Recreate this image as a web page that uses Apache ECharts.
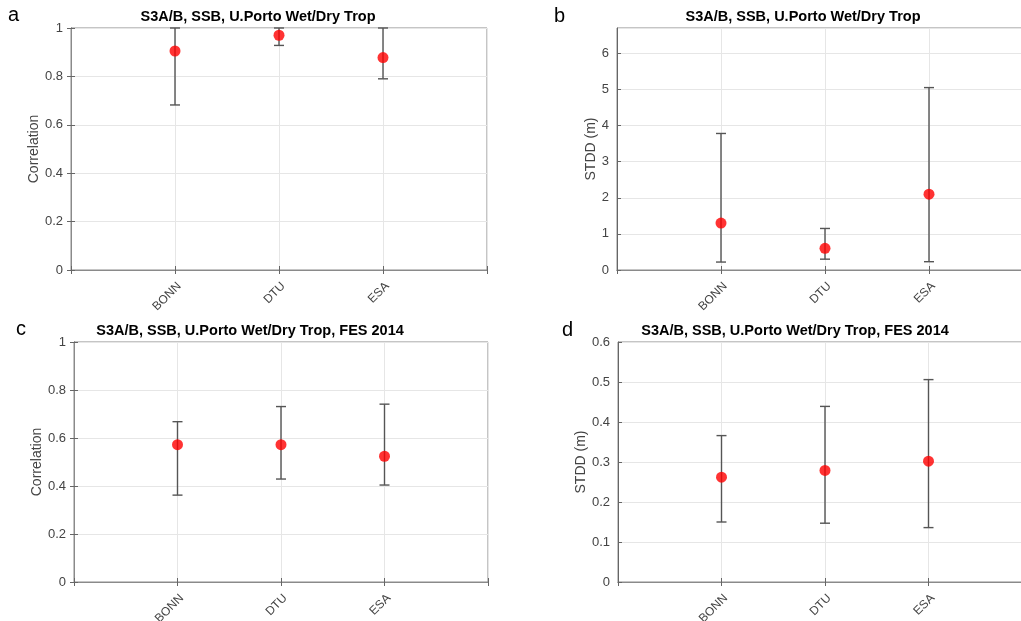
<!DOCTYPE html>
<html><head><meta charset="utf-8">
<script src="https://cdn.jsdelivr.net/npm/echarts@6/dist/echarts.min.js"></script>
<style>html,body{margin:0;padding:0;background:#fff}#c{width:1021px;height:621px}</style>
</head><body><div id="c"></div>
<script>
const categories = ['BONN', 'DTU', 'ESA'];
// panel a: correlation
const corrA = [0.905, 0.970, 0.878];
const corrALow = [0.682, 0.928, 0.790];
const corrAHigh = [1.0, 1.0, 1.0];
// panel b: STDD (m)
const stddB = [1.30, 0.60, 2.10];
const stddBLow = [0.22, 0.30, 0.23];
const stddBHigh = [3.78, 1.15, 5.05];
// panel c: correlation, FES 2014
const corrC = [0.572, 0.572, 0.524];
const corrCLow = [0.362, 0.429, 0.404];
const corrCHigh = [0.668, 0.731, 0.741];
// panel d: STDD (m), FES 2014
const stddD = [0.262, 0.279, 0.302];
const stddDLow = [0.150, 0.147, 0.136];
const stddDHigh = [0.366, 0.439, 0.506];

const panelLetters = ['a', 'b', 'c', 'd'];
const titles = ['S3A/B, SSB, U.Porto Wet/Dry Trop', 'S3A/B, SSB, U.Porto Wet/Dry Trop',
  'S3A/B, SSB, U.Porto Wet/Dry Trop, FES 2014', 'S3A/B, SSB, U.Porto Wet/Dry Trop, FES 2014'];
const yNames = ['Correlation', 'STDD (m)', 'Correlation', 'STDD (m)'];
const yMax = [1, 6.7, 1, 0.6];
const yStep = [0.2, 1, 0.2, 0.1];

const panels = [
  {v: corrA, lo: corrALow, hi: corrAHigh},
  {v: stddB, lo: stddBLow, hi: stddBHigh},
  {v: corrC, lo: corrCLow, hi: corrCHigh},
  {v: stddD, lo: stddDLow, hi: stddDHigh}
];

const FONT = "'Liberation Sans', Arial, Helvetica, sans-serif";
// layout (right panels run past the canvas edge, as in the reference)
const grids = [
  {left: 71, top: 28, width: 416, height: 242},
  {left: 617, top: 28, width: 416, height: 242},
  {left: 74, top: 342, width: 414, height: 240},
  {left: 618, top: 342, width: 414, height: 240}
];
const showRight = [true, false, true, false];
const titlePos = [[258, 17], [803, 17], [250, 331], [795, 331]];
const letterPos = [[8, 15], [554, 16], [16, 329], [562, 330]];
const yNameGap = [28, 18, 27, 28];

function renderErr(params, api) {
  const x = api.value(0), lo = api.value(1), hi = api.value(2);
  const p1 = api.coord([x, lo]), p2 = api.coord([x, hi]);
  const w = 5;
  const st = {stroke: '#555', lineWidth: 1.4};
  return {type: 'group', children: [
    {type: 'line', shape: {x1: p1[0], y1: p1[1], x2: p2[0], y2: p2[1]}, style: st},
    {type: 'line', shape: {x1: p1[0] - w, y1: p1[1], x2: p1[0] + w, y2: p1[1]}, style: st},
    {type: 'line', shape: {x1: p2[0] - w, y1: p2[1], x2: p2[0] + w, y2: p2[1]}, style: st}
  ]};
}

const option = {
  animation: false,
  backgroundColor: '#fff',
  grid: [], xAxis: [], yAxis: [], series: [], graphic: []
};

const axisCol = '#666';
const boxCol = '#8a8a8a';
const gridCol = '#e6e6e6';
const labelCol = '#444';

grids.forEach((g, i) => {
  option.grid.push(Object.assign({show: true, borderColor: boxCol, borderWidth: 1, backgroundColor: '#fff',
    containLabel: false, outerBoundsMode: 'none'}, g));
  option.xAxis.push({
    type: 'value', gridIndex: i, min: 0, max: 4, interval: 1,
    axisLine: {show: true, lineStyle: {color: axisCol}},
    axisTick: {show: true, inside: true, length: 4, lineStyle: {color: axisCol}},
    splitLine: {show: true, lineStyle: {color: gridCol, width: 1}},
    axisLabel: {
      rotate: 45, margin: 10, verticalAlign: 'top', color: labelCol, fontFamily: FONT, fontSize: 12,
      formatter: v => (v >= 1 && v <= categories.length) ? categories[v - 1] : ''
    }
  });
  option.xAxis.push({
    type: 'value', gridIndex: i, min: 0, max: 4, interval: 1, position: 'top',
    axisLine: {show: true, lineStyle: {color: boxCol}},
    axisTick: {show: true, inside: true, length: 4, lineStyle: {color: axisCol}},
    splitLine: {show: false}, axisLabel: {show: false}
  });
  const exact = Math.abs(yMax[i] / yStep[i] - Math.round(yMax[i] / yStep[i])) < 1e-6;
  option.yAxis.push({
    type: 'value', gridIndex: i, min: 0, max: yMax[i], interval: yStep[i],
    name: yNames[i], nameLocation: 'middle', nameGap: yNameGap[i],
    nameTextStyle: {color: labelCol, fontFamily: FONT, fontSize: 14},
    axisLine: {show: true, lineStyle: {color: axisCol}},
    axisTick: {show: true, inside: true, length: 4, lineStyle: {color: axisCol}},
    splitLine: {show: true, lineStyle: {color: gridCol, width: 1}},
    axisLabel: {
      margin: 8, color: labelCol, fontFamily: FONT, fontSize: 13, showMaxLabel: exact,
      formatter: v => String(Math.round(v * 10) / 10)
    }
  });
  option.yAxis.push({
    type: 'value', gridIndex: i, min: 0, max: yMax[i], interval: yStep[i], position: 'right',
    show: showRight[i],
    axisLine: {show: true, lineStyle: {color: boxCol}},
    axisTick: {show: true, inside: true, length: 4, lineStyle: {color: axisCol}},
    splitLine: {show: false}, axisLabel: {show: false}
  });
  const p = panels[i];
  option.series.push({
    type: 'custom', xAxisIndex: 2 * i, yAxisIndex: 2 * i,
    renderItem: renderErr, encode: {x: 0, y: [1, 2]},
    data: categories.map((c, k) => [k + 1, p.lo[k], p.hi[k]]), z: 3
  });
  option.series.push({
    type: 'scatter', xAxisIndex: 2 * i, yAxisIndex: 2 * i,
    symbolSize: 11, itemStyle: {color: '#ff0000'},
    data: categories.map((c, k) => [k + 1, p.v[k]]), z: 4
  });
  option.graphic.push({
    type: 'text', x: titlePos[i][0], y: titlePos[i][1],
    style: {text: titles[i], textAlign: 'center', textVerticalAlign: 'middle',
      font: 'bold 14.5px ' + FONT, fill: '#000'}
  });
  option.graphic.push({
    type: 'text', x: letterPos[i][0], y: letterPos[i][1],
    style: {text: panelLetters[i], textAlign: 'left', textVerticalAlign: 'middle',
      font: '20px ' + FONT, fill: '#000'}
  });
});

const chart = echarts.init(document.getElementById('c'), null, {renderer: 'canvas'});
chart.setOption(option);
</script>
</body></html>
